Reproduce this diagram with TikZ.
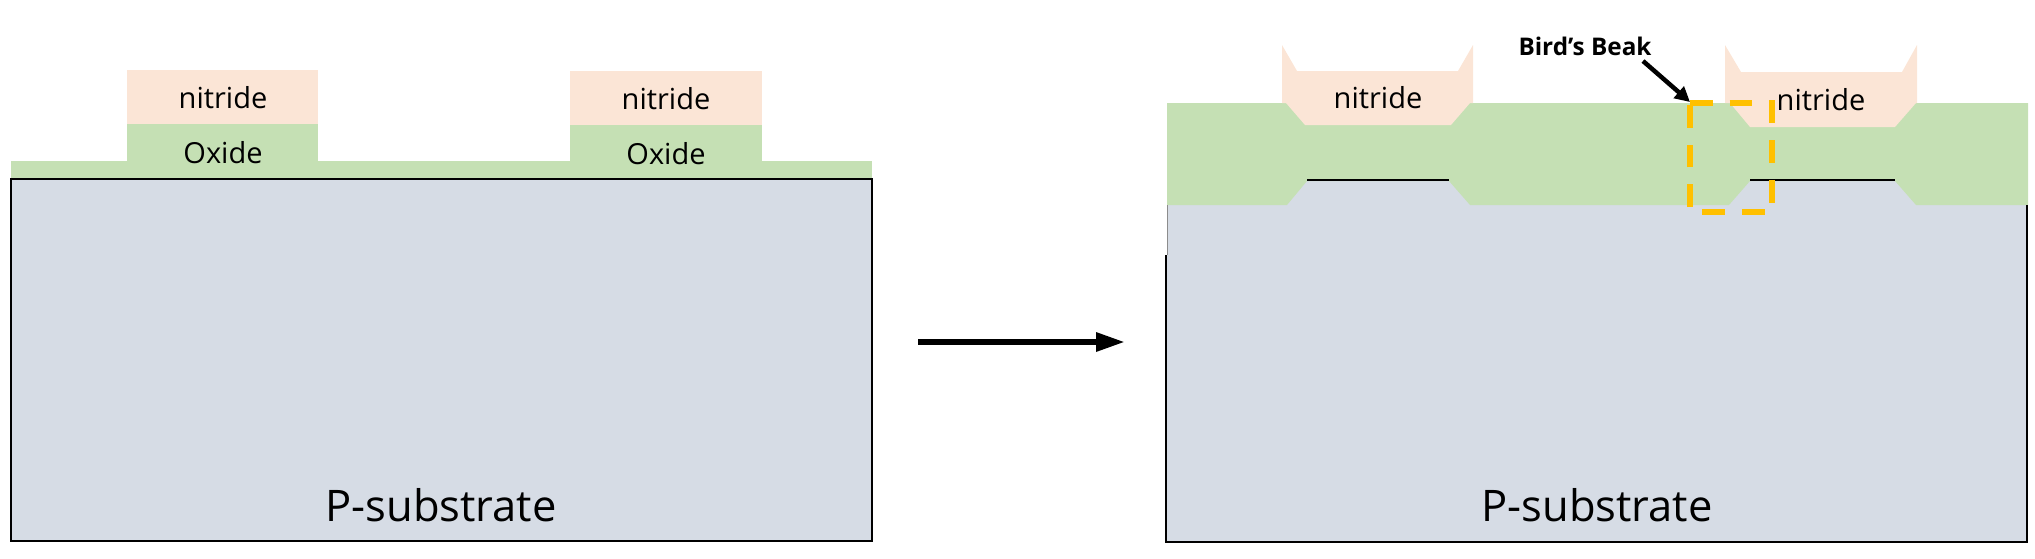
\documentclass[tikz,border=0pt]{standalone}
\usepackage{fontspec}
\setmainfont{Open Sans}
\usetikzlibrary{arrows.meta}
\definecolor{subst}{HTML}{D6DCE5}
\definecolor{oxide}{HTML}{C5E0B4}
\definecolor{nitr}{HTML}{FBE5D6}
\definecolor{beak}{HTML}{FFC000}
\tikzset{
  x=1pt,y=-1pt,
  oxidefill/.style={fill=oxide,draw=none},
  nitrfill/.style={fill=nitr,draw=none},
  substfill/.style={fill=subst,draw=none},
  edge/.style={draw=black,line width=2pt},
  lbl/.style={anchor=base,inner sep=0pt,font=\fontsize{29}{34}\selectfont},
  sublbl/.style={anchor=base,inner sep=0pt,font=\fontsize{43.5}{50}\selectfont},
  beaklbl/.style={anchor=base,inner sep=0pt,font=\fontsize{24.3}{28}\selectfont\bfseries},
  beakbox/.style={draw=beak,line width=6.5pt,dash pattern=on 22.7pt off 17pt},
}
\begin{document}
\begin{tikzpicture}
\useasboundingbox (0,0) rectangle (2035,558);
% left structure
\path[substfill] (11,179) rectangle (872,541);
\path[oxidefill] (11,161) rectangle (872,179);
\path[oxidefill] (127,124) rectangle (318,161);
\path[oxidefill] (570,125) rectangle (762,161);
\path[nitrfill] (127,70) rectangle (318,124);
\path[nitrfill] (570,71) rectangle (762,125);
\draw[edge] (11,179) rectangle (872,541);
\node[lbl] (n1) at (223,108) {nitride};
\node[lbl] (o1) at (223,163) {Oxide};
\node[lbl] (n2) at (666,109) {nitride};
\node[lbl] (o2) at (666,164) {Oxide};
\node[sublbl] (s1) at (441,521) {P-substrate};
% main arrow
\coordinate (arrS) at (918,342);
\coordinate (arrE) at (1125,342);
\draw[line width=6pt,-{Triangle[length=29pt,width=18pt]}] (arrS) -- (arrE);
% right structure
\path[substfill] (1167,175) rectangle (2027,542);
\path[oxidefill] (1167,103) -- (2028,103) -- (2028,205) -- (1916,205) -- (1895,181) -- (1750,181) -- (1729,205)
  -- (1470,205) -- (1449,181) -- (1307,181) -- (1287,205) -- (1167,205) -- cycle;
\path[nitrfill] (1282,45) -- (1297,71) -- (1458,71) -- (1473,45) -- (1473,103) -- (1470,103) -- (1451,125)
  -- (1305,125) -- (1286,103) -- (1282,103) -- cycle;
\path[nitrfill] (1725,45) -- (1741,72) -- (1902,72) -- (1917,45) -- (1917,103) -- (1916,103) -- (1895,127)
  -- (1750,127) -- (1730,103) -- (1725,103) -- cycle;
\draw[edge] (1166,255) -- (1166,542) -- (2027,542) -- (2027,205);
\draw[draw=black!45,line width=1pt] (1167.5,205) -- (1167.5,255);
\draw[edge] (1307,180) -- (1449,180);
\draw[edge] (1750,180) -- (1895,180);
\node[lbl] (n3) at (1378,108) {nitride};
\node[lbl] (n4) at (1821,110) {nitride};
\node[sublbl] (s2) at (1597,521) {P-substrate};
\draw[beakbox] (1690,103) -- (1772,103) -- (1772,212) -- (1690,212) -- cycle;
\node[beaklbl] (bb) at (1585,55) {Bird’s Beak};
\coordinate (bbS) at (1643,61);
\coordinate (bbE) at (1690,102);
\draw[line width=4.5pt,-{Triangle[length=15pt,width=15pt]}] (bbS) -- (bbE);
\end{tikzpicture}
\end{document}
